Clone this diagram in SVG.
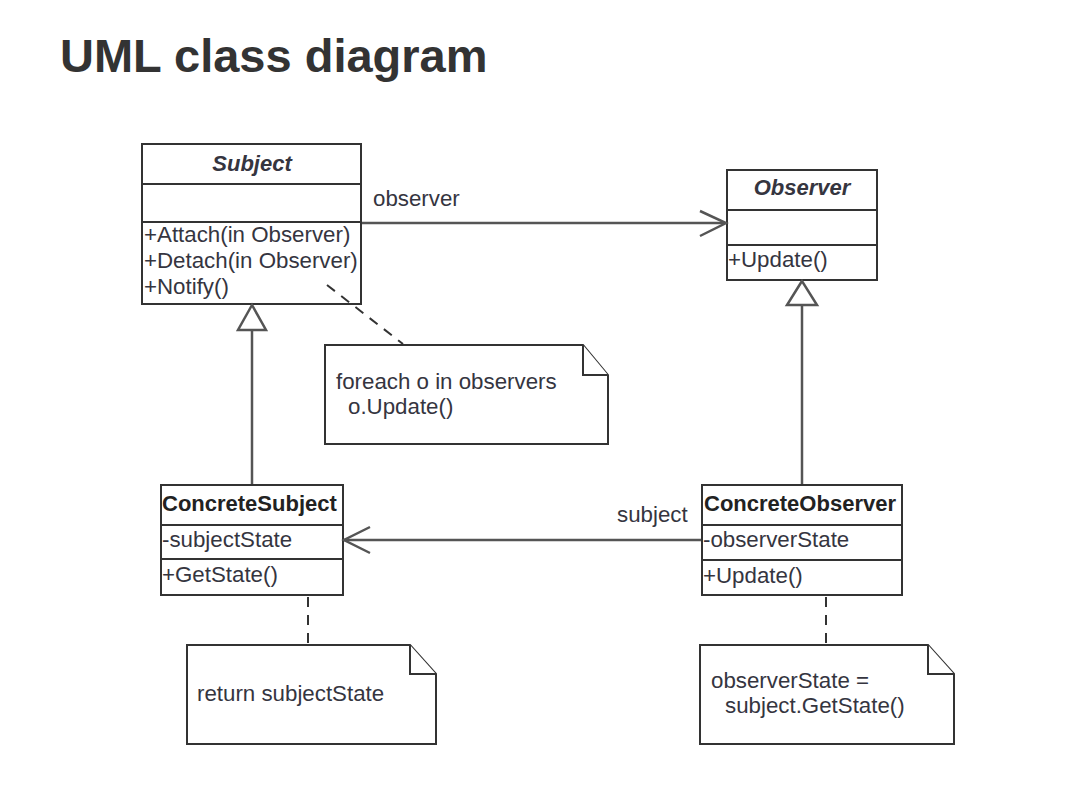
<svg xmlns="http://www.w3.org/2000/svg" width="1092" height="790" viewBox="0 0 1092 790">
<style>
.box{fill:#fff;stroke:#333;stroke-width:2}
.sep{stroke:#333;stroke-width:2}
.t{font-family:"Liberation Sans",Arial,sans-serif;font-size:22.3px;fill:#35353f}
.hi{font-weight:bold;font-style:italic;font-size:22px}
.hb{font-weight:bold;font-size:22px;fill:#222}
.con{fill:none;stroke:#555;stroke-width:2.5}
.dash{fill:none;stroke:#333;stroke-width:2;stroke-dasharray:10 8}
.note{fill:#fff;stroke:#333;stroke-width:2}
</style>
<rect width="1092" height="790" fill="#fff"/>
<text x="60" y="72" font-family="Liberation Sans,Arial,sans-serif" font-size="47" font-weight="bold" fill="#333">UML class diagram</text>

<g id="Subject">
  <rect class="box" x="142" y="144" width="219" height="160"/>
  <line class="sep" x1="142" y1="184" x2="361" y2="184"/>
  <line class="sep" x1="142" y1="222" x2="361" y2="222"/>
  <text class="t hi" x="252" y="171" text-anchor="middle">Subject</text>
  <text class="t" x="144" y="242">+Attach(in Observer)</text>
  <text class="t" x="144" y="268">+Detach(in Observer)</text>
  <text class="t" x="144" y="294">+Notify()</text>
</g>

<g id="Observer">
  <rect class="box" x="727" y="170" width="150" height="110"/>
  <line class="sep" x1="727" y1="210" x2="877" y2="210"/>
  <line class="sep" x1="727" y1="245" x2="877" y2="245"/>
  <text class="t hi" x="802" y="195" text-anchor="middle">Observer</text>
  <text class="t" x="728" y="267">+Update()</text>
</g>

<g id="ConcreteSubject">
  <rect class="box" x="161" y="485" width="182" height="110"/>
  <line class="sep" x1="161" y1="525" x2="343" y2="525"/>
  <line class="sep" x1="161" y1="559" x2="343" y2="559"/>
  <text class="t hb" x="162" y="511">ConcreteSubject</text>
  <text class="t" x="162" y="547">-subjectState</text>
  <text class="t" x="162" y="582">+GetState()</text>
</g>

<g id="ConcreteObserver">
  <rect class="box" x="702" y="485" width="200" height="110"/>
  <line class="sep" x1="702" y1="525" x2="902" y2="525"/>
  <line class="sep" x1="702" y1="560" x2="902" y2="560"/>
  <text class="t hb" x="704" y="511">ConcreteObserver</text>
  <text class="t" x="703" y="547">-observerState</text>
  <text class="t" x="703" y="583">+Update()</text>
</g>

<g id="note-notify">
  <path class="note" d="M325,345 H583 L608,375 V444 H325 Z"/>
  <polyline class="note" fill="none" points="583,345 583,375 608,375"/>
  <text class="t" x="336" y="389">foreach o in observers</text>
  <text class="t" x="348" y="414">o.Update()</text>
</g>

<g id="note-getstate">
  <path class="note" d="M187,645 H410 L436,674 V744 H187 Z"/>
  <polyline class="note" fill="none" points="410,645 410,674 436,674"/>
  <text class="t" x="197" y="701">return subjectState</text>
</g>

<g id="note-update">
  <path class="note" d="M700,645 H928 L954,674 V744 H700 Z"/>
  <polyline class="note" fill="none" points="928,645 928,674 954,674"/>
  <text class="t" x="711" y="688">observerState =</text>
  <text class="t" x="725" y="713">subject.GetState()</text>
</g>

<g id="connectors">
  <line class="con" x1="362" y1="223" x2="725" y2="223"/>
  <polyline class="con" points="700,211 726,223 700,236"/>
  <text class="t" x="373" y="206">observer</text>
  <line class="con" x1="701" y1="540" x2="344" y2="540"/>
  <polyline class="con" points="370,527 344,540 370,553"/>
  <text class="t" x="617" y="522">subject</text>
  <line class="con" x1="252" y1="330" x2="252" y2="484"/>
  <polygon class="con" points="252,305 238,330 266,330"/>
  <line class="con" x1="802" y1="305" x2="802" y2="484"/>
  <polygon class="con" points="802,281 787,305 817,305"/>
  <line class="dash" x1="327" y1="285" x2="403" y2="344"/>
  <line class="dash" x1="308" y1="597" x2="308" y2="644"/>
  <line class="dash" x1="826" y1="597" x2="826" y2="644"/>
</g>
</svg>
